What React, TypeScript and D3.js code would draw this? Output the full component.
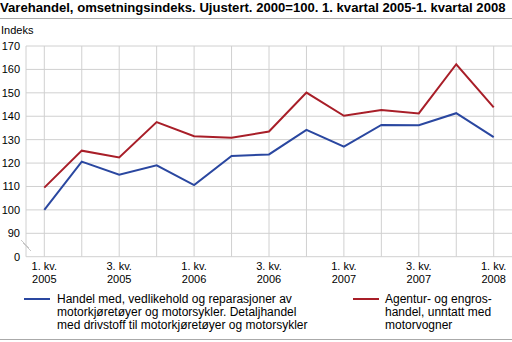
import React from "react";
import * as d3 from "d3";

const quarters = ["1. kv. 2005","2. kv. 2005","3. kv. 2005","4. kv. 2005","1. kv. 2006","2. kv. 2006","3. kv. 2006","4. kv. 2006","1. kv. 2007","2. kv. 2007","3. kv. 2007","4. kv. 2007","1. kv. 2008"];
const blueValues = [100, 120.6, 115, 119, 110.6, 123, 123.7, 134.2, 127, 136.3, 136.2, 141.3, 131.1];
const redValues = [109.5, 125.3, 122.4, 137.5, 131.5, 130.8, 133.5, 150.1, 140.2, 142.7, 141.2, 162.2, 143.8];
const yTicks = [90, 100, 110, 120, 130, 140, 150, 160, 170];
const xLabelIdx = [0, 2, 4, 6, 8, 10, 12];
const blueLabel = ["Handel med, vedlikehold og reparasjoner av", "motorkjøretøyer og motorsykler. Detaljhandel", "med drivstoff til motorkjøretøyer og motorsykler"];
const redLabel = ["Agentur- og engros-", "handel, unntatt med", "motorvogner"];
const title = "Varehandel, omsetningsindeks. Ujustert. 2000=100. 1. kvartal 2005-1. kvartal 2008";

const BLUE = "#2a47a0";
const RED = "#a81e28";
const GRID = "#d0d0d0";
const FONT = "Liberation Sans, Arial, sans-serif";

export default function App() {
  const W = 512, H = 342;
  const left = 26, right = 512;
  const x = d3.scalePoint<number>().domain(d3.range(quarters.length)).range([44.3, 493.7]);
  const y = d3.scaleLinear().domain([90, 170]).range([233.3, 46]);
  const yZero = 256.7;
  const line = d3.line<number>().x((_, i) => x(i)!).y(d => y(d));
  return (
    <svg width={W} height={H} style={{ position: "absolute", left: 0, top: 0 }} fontFamily={FONT}>
      <rect width={W} height={H} fill="#fff" />
      <text x={0} y={12} fontSize={13.1} fontWeight="bold" fill="#000">{title}</text>
      <line x1={0} x2={W} y1={18.5} y2={18.5} stroke="#aaa" strokeWidth={1} />
      <text x={1} y={34} fontSize={11} fill="#000">Indeks</text>
      {yTicks.map(t => (
        <g key={t}>
          <line x1={left} x2={right} y1={y(t)} y2={y(t)} stroke={GRID} strokeWidth={1} />
          <text x={20} y={y(t) + 4} fontSize={11} textAnchor="end" fill="#000">{t}</text>
        </g>
      ))}
      <text x={20} y={yZero + 4} fontSize={11} textAnchor="end" fill="#000">0</text>
      {quarters.map((q, i) => (
        <line key={q} x1={x(i)} x2={x(i)} y1={46} y2={yZero} stroke={GRID} strokeWidth={1} />
      ))}
      <line x1={left} x2={left} y1={46} y2={yZero} stroke={GRID} strokeWidth={1} />
      <line x1={left} x2={right} y1={yZero} y2={yZero} stroke={GRID} strokeWidth={1} />
      <line x1={21} x2={29} y1={240} y2={248} stroke="#c8c8c8" strokeWidth={1} />
      <line x1={23} x2={31} y1={243} y2={251} stroke="#c8c8c8" strokeWidth={1} />
      {xLabelIdx.map(i => {
        const [a, b, c] = quarters[i].split(" ");
        return (
          <text key={i} x={x(i)} y={270} fontSize={11} textAnchor="middle" fill="#000">
            <tspan x={x(i)}>{a + " " + b}</tspan>
            <tspan x={x(i)} dy={12.5}>{c}</tspan>
          </text>
        );
      })}
      <path d={line(redValues)!} fill="none" stroke={RED} strokeWidth={2} />
      <path d={line(blueValues)!} fill="none" stroke={BLUE} strokeWidth={2} />
      <line x1={24} x2={50} y1={299} y2={299} stroke={BLUE} strokeWidth={2} />
      <text x={57} y={303} fontSize={12} fill="#000">
        {blueLabel.map((s, i) => <tspan key={i} x={57} dy={i === 0 ? 0 : 13}>{s}</tspan>)}
      </text>
      <line x1={353} x2={379} y1={299} y2={299} stroke={RED} strokeWidth={2} />
      <text x={385} y={303} fontSize={12} fill="#000">
        {redLabel.map((s, i) => <tspan key={i} x={385} dy={i === 0 ? 0 : 13}>{s}</tspan>)}
      </text>
      <line x1={0} x2={W} y1={339.5} y2={339.5} stroke="#aaa" strokeWidth={1} />
    </svg>
  );
}
